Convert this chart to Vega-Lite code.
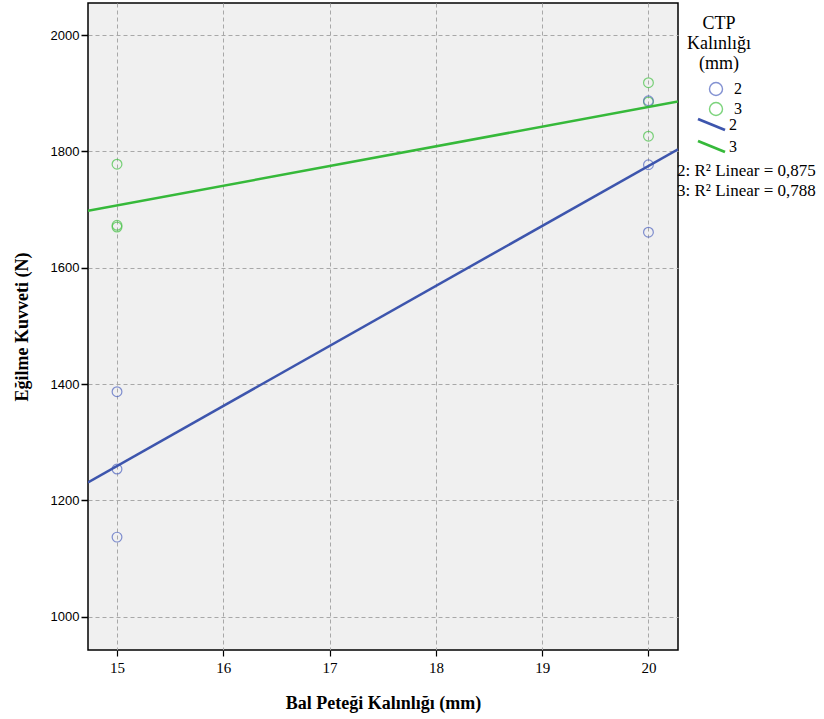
{
  "$schema": "https://vega.github.io/schema/vega-lite/v6.json",
  "width": 590,
  "height": 647,
  "autosize": {"type": "none"},
  "padding": {"left": 88, "top": 3, "right": 146, "bottom": 69},
  "background": "white",
  "config": {
    "view": {"fill": "#f0f0f0", "stroke": "#000000", "strokeWidth": 1.5},
    "font": "Liberation Serif"
  },
  "data": {
    "values": [
      {"bal": 15, "kuvvet": 1778, "ctp": "3", "fit": "3: R² Linear = 0,788"},
      {"bal": 15, "kuvvet": 1673, "ctp": "3", "fit": "3: R² Linear = 0,788"},
      {"bal": 15, "kuvvet": 1670, "ctp": "3", "fit": "3: R² Linear = 0,788"},
      {"bal": 20, "kuvvet": 1918, "ctp": "3", "fit": "3: R² Linear = 0,788"},
      {"bal": 20, "kuvvet": 1885, "ctp": "3", "fit": "3: R² Linear = 0,788"},
      {"bal": 20, "kuvvet": 1826, "ctp": "3", "fit": "3: R² Linear = 0,788"},
      {"bal": 15, "kuvvet": 1387, "ctp": "2", "fit": "2: R² Linear = 0,875"},
      {"bal": 15, "kuvvet": 1254, "ctp": "2", "fit": "2: R² Linear = 0,875"},
      {"bal": 15, "kuvvet": 1137, "ctp": "2", "fit": "2: R² Linear = 0,875"},
      {"bal": 20, "kuvvet": 1887, "ctp": "2", "fit": "2: R² Linear = 0,875"},
      {"bal": 20, "kuvvet": 1777, "ctp": "2", "fit": "2: R² Linear = 0,875"},
      {"bal": 20, "kuvvet": 1661, "ctp": "2", "fit": "2: R² Linear = 0,875"}
    ]
  },
  "encoding": {
    "x": {
      "field": "bal", "type": "quantitative",
      "scale": {"domain": [14.727, 20.278], "nice": false, "zero": false},
      "axis": {
        "title": "Bal Peteği Kalınlığı (mm)",
        "values": [15, 16, 17, 18, 19, 20], "format": "d",
        "grid": true, "gridColor": "#a8a8a8", "gridDash": [4, 3], "gridWidth": 1,
        "domain": false, "tickColor": "#000", "tickSize": 6, "tickWidth": 1.2,
        "labelFont": "Liberation Serif", "labelFontSize": 15, "labelColor": "#000", "labelPadding": 4,
        "titleFont": "Liberation Serif", "titleFontSize": 18, "titleFontWeight": "bold", "titleColor": "#000", "titlePadding": 19
      }
    },
    "y": {
      "field": "kuvvet", "type": "quantitative",
      "scale": {"domain": [943, 2055], "nice": false, "zero": false},
      "axis": {
        "title": "Eğilme Kuvveti (N)",
        "values": [1000, 1200, 1400, 1600, 1800, 2000], "format": "d",
        "grid": true, "gridColor": "#a8a8a8", "gridDash": [4, 3], "gridWidth": 1,
        "domain": false, "tickColor": "#000", "tickSize": 7, "tickWidth": 1.5,
        "labelFont": "Liberation Sans", "labelFontSize": 13, "labelColor": "#000", "labelPadding": 2,
        "titleFont": "Liberation Serif", "titleFontSize": 18, "titleFontWeight": "bold", "titleColor": "#000", "titlePadding": 19
      }
    }
  },
  "layer": [
    {
      "mark": {"type": "point", "filled": false, "shape": "circle", "size": 95, "strokeWidth": 1.2},
      "encoding": {
        "color": {
          "field": "ctp", "type": "nominal",
          "scale": {"domain": ["2", "3"], "range": ["#4f64c0", "#45c245"]},
          "legend": {
            "orient": "none", "legendX": 599, "legendY": 12,
            "title": ["CTP", "Kalınlığı", "(mm)"],
            "titleFont": "Liberation Serif", "titleFontSize": 18, "titleFontWeight": "normal", "titleColor": "#000",
            "titleAlign": "center", "titleAnchor": "middle", "titleLineHeight": 20, "titlePadding": 8,
            "symbolType": "circle", "symbolSize": 170, "symbolStrokeWidth": 1.4, "symbolOffset": 12, "symbolFillColor": "transparent",
            "labelFont": "Liberation Serif", "labelFontSize": 16, "labelColor": "#000", "labelOffset": 10,
            "rowPadding": 0
          }
        }
      }
    },
    {
      "transform": [
        {"regression": "kuvvet", "on": "bal", "groupby": ["ctp"], "extent": [14.727, 20.278]},
        {"calculate": "'L' + datum.ctp", "as": "ctp_fit"}
      ],
      "mark": {"type": "line", "strokeWidth": 2.5, "clip": true},
      "encoding": {
        "stroke": {
          "field": "ctp_fit", "type": "nominal",
          "scale": {"domain": ["L2", "L3"], "range": ["#3d55ad", "#36b93a"]},
          "legend": {
            "orient": "none", "legendX": 613, "legendY": 111,
            "title": null,
            "labelExpr": "slice(datum.label, 1)",
            "symbolType": "M-1.56,-0.64L1.56,0.64", "symbolSize": 300, "symbolStrokeWidth": 2.8,
            "labelFont": "Liberation Serif", "labelFontSize": 16, "labelColor": "#000", "labelOffset": 7,
            "rowPadding": -4
          }
        }
      }
    },
    {
      "mark": {"type": "point", "opacity": 0},
      "encoding": {
        "shape": {
          "field": "fit", "type": "nominal",
          "scale": {"range": ["circle", "circle"]},
          "legend": {
            "orient": "none", "legendX": 580, "legendY": 159,
            "title": null, "symbolOpacity": 0, "symbolSize": 1,
            "labelFont": "Liberation Serif", "labelFontSize": 17, "labelColor": "#000", "labelOffset": -8,
            "rowPadding": 2, "labelLimit": 300
          }
        }
      }
    }
  ]
}
